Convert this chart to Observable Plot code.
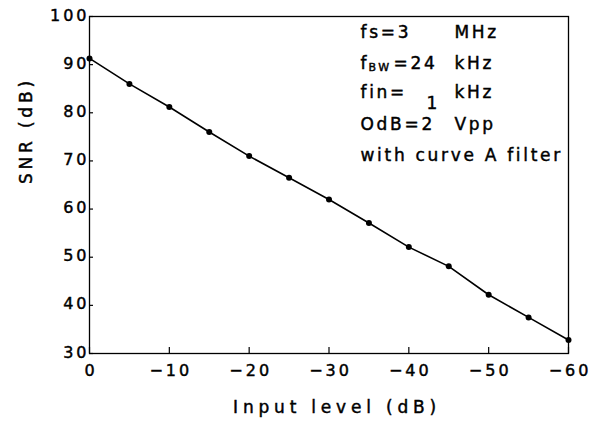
<!DOCTYPE html>
<html>
<head>
<meta charset="utf-8">
<script src="https://cdn.jsdelivr.net/npm/d3@7"></script>
<script src="https://cdn.jsdelivr.net/npm/@observablehq/plot@0.6"></script>
<style>
  html, body { margin: 0; padding: 0; background: #fff; }
  #chart svg { display: block; }
  #chart svg text { stroke: #000; stroke-width: 0.45px; }
  #chart svg [aria-label="y-axis tick label"] text,
  #chart svg [aria-label="x-axis tick label"] text { letter-spacing: 3px; }
  #chart svg .xlbl text { letter-spacing: 4.8px; }
  #chart svg .ylbl text { letter-spacing: 3.8px; }
  #chart svg .leg text { letter-spacing: 2.7px; }
</style>
</head>
<body>
<div id="chart"></div>
<script>
// Data
const inputLevel = [0, -5, -10, -15, -20, -25, -30, -35, -40, -45, -50, -55, -60];
const snr = [91.3, 86.0, 81.2, 76.0, 71.0, 66.5, 62.0, 57.1, 52.1, 48.1, 42.2, 37.5, 32.8];
const xTicks = [0, -10, -20, -30, -40, -50, -60];
const yTicks = [30, 40, 50, 60, 70, 80, 90, 100];
const xLabel = "Input level (dB)";
const yLabel = "SNR (dB)";
const legendMain = ["fs=3", "f", "=24", "fin=", "OdB=2", "with curve A filter"];
const legendUnits = ["MHz", "kHz", "kHz", "Vpp"];
const legendSub = "BW";
const legendLow = "1";

const data = inputLevel.map((x, i) => ({x, y: snr[i]}));

const L = 89, T = 16; // frame origin in px (for annotation offsets)

function leg(str, x, baseline, size = 17) {
  return Plot.text([str], {
    frameAnchor: "top-left", textAnchor: "start", lineAnchor: "middle",
    dx: x - L, dy: baseline - 0.32 * size - T, fontSize: size, className: "leg"
  });
}

const chart = Plot.plot({
  width: 598,
  height: 424,
  marginLeft: 89,
  marginRight: 30,
  marginTop: 16,
  marginBottom: 71,
  style: {fontFamily: "DejaVu Sans", fontSize: "16px", color: "black", background: "white"},
  x: {domain: [0, -60]},
  y: {domain: [30, 100]},
  marks: [
    Plot.frame({stroke: "black", strokeWidth: 1.3}),
    Plot.axisX({ticks: xTicks, tickSize: -6, text: null, label: null, strokeWidth: 1.2}),
    Plot.axisX({ticks: xTicks, tickSize: 0, tickPadding: 11, label: null, tickFormat: d => d === 0 ? "0" : "\u2212" + Math.abs(d), fontSize: 16, dx: 1.5}),
    Plot.axisY({ticks: yTicks, tickSize: -4, text: null, label: null, strokeWidth: 1.2}),
    Plot.axisY({ticks: yTicks, tickSize: 0, tickPadding: 0, label: null, fontSize: 16, dy: -1}),
    Plot.text([xLabel], {frameAnchor: "bottom", lineAnchor: "middle", dx: 8, dy: 412 - 0.32 * 17 - 353, fontSize: 17, className: "xlbl"}),
    Plot.text([yLabel], {frameAnchor: "left", lineAnchor: "middle", rotate: -90, dx: 26 - L, dy: -1, fontSize: 17, className: "ylbl"}),
    Plot.line(data, {x: "x", y: "y", stroke: "black", strokeWidth: 1.6}),
    Plot.dot(data, {x: "x", y: "y", r: 3, fill: "black"}),
    // legend block
    leg(legendMain[0], 360, 37),
    leg(legendUnits[0], 454, 37),
    Plot.text([legendMain[1]], {frameAnchor: "top-left", textAnchor: "start", lineAnchor: "middle", dx: 360 - L, dy: 68 - 0.32 * 17 - T, fontSize: 17}),
    leg(legendSub, 368, 70, 11),
    leg(legendMain[2], 393, 68),
    leg(legendUnits[1], 454, 68),
    leg(legendMain[3], 360, 97),
    leg(legendLow, 426, 108),
    leg(legendUnits[2], 454, 97),
    leg(legendMain[4], 360, 129),
    leg(legendUnits[3], 454, 129),
    leg(legendMain[5], 360, 160)
  ]
});
document.getElementById("chart").appendChild(chart);
</script>
</body>
</html>
